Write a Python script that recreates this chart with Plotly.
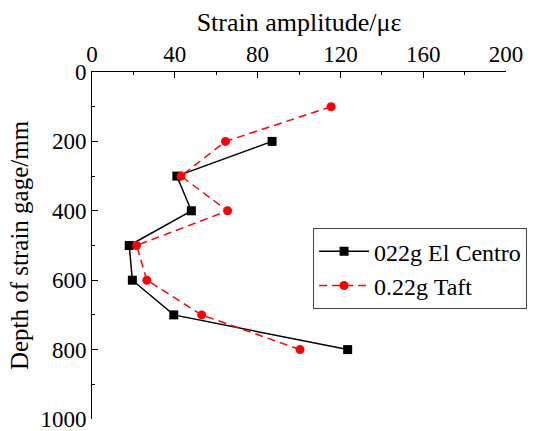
import plotly.graph_objects as go

depth_ec = [200, 300, 400, 500, 600, 700, 800]
strain_ec = [87, 41, 48, 18, 19.5, 39.5, 123.5]
depth_taft = [100, 200, 300, 400, 500, 600, 700, 800]
strain_taft = [115.5, 64.5, 43, 65.5, 21.5, 26.5, 53, 100.5]

fig = go.Figure()
fig.add_trace(go.Scatter(x=strain_ec, y=depth_ec, mode="lines+markers",
                         name="022g El Centro",
                         line=dict(color="black", width=1.5),
                         marker=dict(symbol="square", size=9, color="black")))
fig.add_trace(go.Scatter(x=strain_taft, y=depth_taft, mode="lines+markers",
                         name="0.22g Taft",
                         line=dict(color="red", width=1.5, dash="8px,5px"),
                         marker=dict(symbol="circle", size=9, color="red")))

font = "'Times New Roman', 'Liberation Serif', 'DejaVu Serif', serif"
tickfont = dict(family=font, size=23, color="black")
fig.update_layout(
    width=548, height=431,
    margin=dict(l=92, r=42, t=72, b=12, autoexpand=False),
    plot_bgcolor="white", paper_bgcolor="white",
    font=dict(family=font, size=23, color="black"),
    showlegend=True,
    legend=dict(x=0.534, y=0.55, xanchor="left", yanchor="top",
                bordercolor="#444", borderwidth=1, bgcolor="white",
                font=dict(family=font, size=24), tracegroupgap=0, itemwidth=50),
    xaxis=dict(side="top", range=[0, 200], dtick=40, tick0=0, automargin=False,
               showline=True, linecolor="black", linewidth=1,
               ticks="inside", ticklen=6, tickcolor="black", tickfont=tickfont,
               minor=dict(dtick=20, ticks="inside", ticklen=3, tickcolor="black"),
               showgrid=False, zeroline=False, ticklabeloverflow="allow",
               title=dict(text="Strain amplitude/\u03bc\u03b5", font=dict(family=font, size=26), standoff=2)),
    yaxis=dict(range=[1000, 0], dtick=200, tick0=0, automargin=False,
               showline=True, linecolor="black", linewidth=1,
               ticks="inside", ticklen=6, tickcolor="black", tickfont=tickfont,
               minor=dict(dtick=100, ticks="inside", ticklen=3, tickcolor="black"),
               showgrid=False, zeroline=False, ticklabeloverflow="allow",
               title=dict(text="Depth of strain gage/mm", font=dict(family=font, size=25), standoff=4)),
)
fig.write_html("out.html")
